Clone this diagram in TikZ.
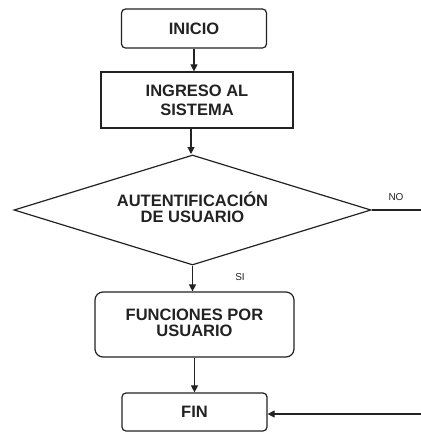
\documentclass[tikz,border=0pt]{standalone}
\usepackage{fontspec}
\setmainfont{Liberation Sans}
\usetikzlibrary{shapes.geometric,arrows.meta,calc}
\definecolor{ink}{HTML}{222222}
\begin{document}
\begin{tikzpicture}[x=1pt,y=-1pt,
  every node/.style={text=ink},
  boxlbl/.style={font=\bfseries\fontsize{16.5}{19}\selectfont, align=center, inner sep=0pt},
  roundbox/.style={boxlbl, draw=ink, line width=1.2pt, rounded corners=4pt, rectangle},
  plainbox/.style={boxlbl, draw=ink, line width=1.2pt, rectangle},
  decide/.style={boxlbl, draw=ink, line width=1.2pt, diamond, aspect=3.245},
  flow/.style={draw=ink, line width=1.1pt, -{Triangle[length=7pt,width=7pt]}},
  wire/.style={draw=ink, line width=1.1pt},
  tag/.style={font=\fontsize{10}{12}\selectfont, inner sep=0pt}
]
\useasboundingbox (0,0) rectangle (421,432);

\node[roundbox, minimum width=145pt, minimum height=39pt] (inicio) at (194,28.5) {INICIO};
\node[plainbox, minimum width=192pt, minimum height=56pt] (ingreso) at (197,100) {INGRESO AL\\SISTEMA};
\node[decide, minimum width=357pt, minimum height=110pt] (auth) at (192.5,210)
  {\raisebox{3pt}{\begin{tabular}{@{}c@{}}AUTENTIFICACIÓN\\[-3pt]DE USUARIO\end{tabular}}};
\node[roundbox, rounded corners=8pt, minimum width=199pt, minimum height=65pt] (func) at (194.5,324.5)
  {\raisebox{3pt}{\begin{tabular}{@{}c@{}}FUNCIONES POR\\[-3pt]USUARIO\end{tabular}}};
\node[roundbox, minimum width=145pt, minimum height=38pt] (fin) at (194.5,412) {FIN};

\node[tag] (no) at (396,197) {NO};
\node[tag] (si) at (240,277) {SI};

\coordinate (noend) at (421,210);
\coordinate (back) at (421,414);

\draw[flow] (inicio.south) -- (inicio.south |- ingreso.north);
\draw[flow] (ingreso.south -| 191,0) -- (191,154);
\draw[flow] (auth.south) -- (auth.south |- func.north);
\draw[flow] (func.south) -- (func.south |- fin.north);
\draw[wire] (auth.east) -- (noend);
\draw[flow] (back) -- (back -| fin.east);
\end{tikzpicture}
\end{document}
